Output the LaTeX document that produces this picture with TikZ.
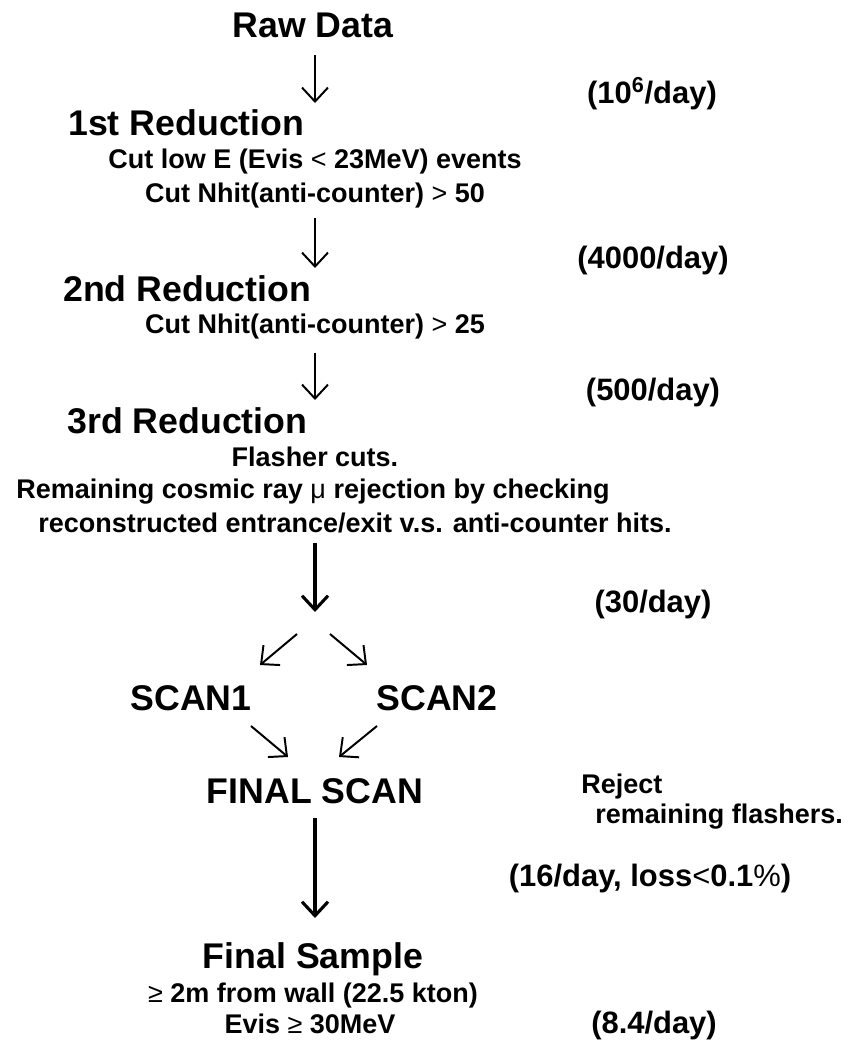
\documentclass[tikz,border=0pt]{standalone}
\usepackage{fontspec}
\setmainfont{Liberation Sans}
\usetikzlibrary{arrows.meta}

\tikzset{
    stage/.style={font=\fontsize{25.4}{28}\selectfont\bfseries, inner sep=0pt, anchor=base},
    note/.style={font=\fontsize{19.2}{22}\selectfont\bfseries, inner sep=0pt, anchor=base},
    rate/.style={font=\fontsize{22}{25}\selectfont\bfseries, inner sep=0pt, anchor=base},
    flow/.style={-{Straight Barb[length=3.5mm,width=6.5mm]}, line width=1.4pt},
    bigflow/.style={flow, line width=2.2pt}
}

\begin{document}
\begin{tikzpicture}[x=0.25mm, y=-0.25mm]
    \useasboundingbox (0,0) rectangle (843,1042);

    % Reduction steps
    \node[stage] (raw) at (313,37) {Raw Data};
    \node[stage, anchor=base west] (red1) at (68,135) {1st Reduction};
    \node[note] (cut1) at (315,168) {Cut low E (Evis {\mdseries<} 23MeV) events};
    \node[note] (cut2) at (315,202) {Cut Nhit(anti-counter) {\mdseries>} 50};
    \node[stage, anchor=base west] (red2) at (63,301) {2nd Reduction};
    \node[note] (cut3) at (315,333) {Cut Nhit(anti-counter) {\mdseries>} 25};
    \node[stage, anchor=base west] (red3) at (67,433) {3rd Reduction};
    \node[note] (flash) at (315,466) {Flasher cuts.};
    \node[note] (mu1) at (313,498) {Remaining cosmic ray {\mdseries μ} rejection by checking};
    \node[note] (mu2) at (355,532) {reconstructed entrance/exit v.s. anti-counter hits.};

    % Scanning
    \node[stage] (scan1) at (191,710) {SCAN1};
    \node[stage] (scan2) at (437,710) {SCAN2};
    \node[stage] (final) at (315,803) {FINAL SCAN};
    \node[note, anchor=base west] (rej1) at (581,793) {Reject};
    \node[note, anchor=base west] (rej2) at (595,823) {remaining flashers.};
    \node[stage] (sample) at (313,968) {Final Sample};
    \node[note] (wall) at (313,1002) {{\mdseries≥} 2m from wall (22.5 kton)};
    \node[note] (evis) at (310,1033) {Evis {\mdseries≥} 30MeV};

    % Event rates
    \node[rate] (rate1) at (652,103) {(10\textsuperscript{6}/day)};
    \node[rate] (rate2) at (653,268) {(4000/day)};
    \node[rate] (rate3) at (653,400) {(500/day)};
    \node[rate] (rate4) at (653,612) {(30/day)};
    \node[rate] (rate5) at (650,886) {(16/day, loss{\mdseries<}0.1{\mdseries\%})};
    \node[rate] (rate6) at (654,1033) {(8.4/day)};

    % Arrow ends
    \coordinate (a1) at (315,55);  \coordinate (b1) at (315,103);
    \coordinate (a2) at (315,218); \coordinate (b2) at (315,268);
    \coordinate (a3) at (315,353); \coordinate (b3) at (315,400);
    \coordinate (a4) at (315,543); \coordinate (b4) at (315,612);
    \coordinate (sl) at (297,634); \coordinate (el) at (260,665);
    \coordinate (sr) at (330,634); \coordinate (er) at (367,665);
    \coordinate (ml) at (251,726); \coordinate (nl) at (288,757);
    \coordinate (mr) at (377,726); \coordinate (nr) at (339,757);
    \coordinate (a5) at (315,818); \coordinate (b5) at (315,918);

    \draw[flow] (a1) -- (b1);
    \draw[flow] (a2) -- (b2);
    \draw[flow] (a3) -- (b3);
    \draw[bigflow] (a4) -- (b4);
    \draw[flow] (sl) -- (el);
    \draw[flow] (sr) -- (er);
    \draw[flow] (ml) -- (nl);
    \draw[flow] (mr) -- (nr);
    \draw[bigflow] (a5) -- (b5);
\end{tikzpicture}
\end{document}
